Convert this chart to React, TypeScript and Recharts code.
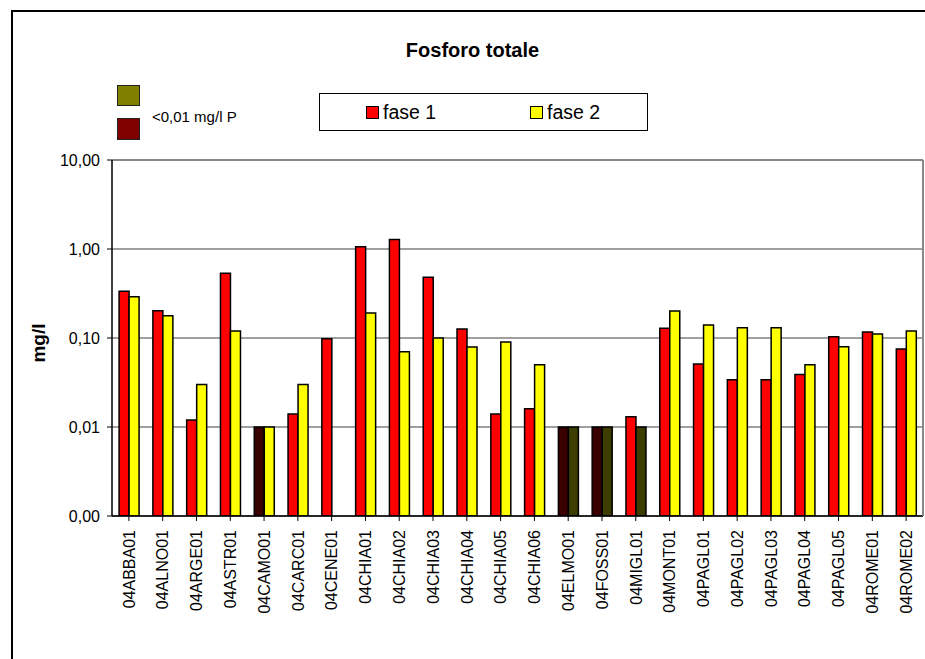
import React from 'react';
import { BarChart, Bar, XAxis, YAxis, CartesianGrid, Cell, ReferenceLine } from 'recharts';

const categories = [
  '04ABBA01', '04ALNO01', '04ARGE01', '04ASTR01', '04CAMO01', '04CARC01', '04CENE01', '04CHIA01',
  '04CHIA02', '04CHIA03', '04CHIA04', '04CHIA05', '04CHIA06', '04ELMO01', '04FOSS01', '04MIGL01',
  '04MONT01', '04PAGL01', '04PAGL02', '04PAGL03', '04PAGL04', '04PAGL05', '04ROME01', '04ROME02',
];
const fase1 = [0.335, 0.203, 0.012, 0.533, 0.01, 0.014, 0.098, 1.06, 1.28, 0.481, 0.126, 0.014, 0.016, 0.01, 0.01, 0.013, 0.129, 0.051, 0.034, 0.034, 0.039, 0.103, 0.117, 0.075];
const fase2 = [0.291, 0.178, 0.03, 0.12, 0.01, 0.03, null, 0.191, 0.07, 0.1, 0.079, 0.09, 0.05, 0.01, 0.01, 0.01, 0.201, 0.14, 0.13, 0.13, 0.05, 0.08, 0.111, 0.12];
// below detection limit (<0,01 mg/l P)
const fase1Below = [false, false, false, false, true, false, false, false, false, false, false, false, false, true, true, false, false, false, false, false, false, false, false, false];
const fase2Below = [false, false, false, false, false, false, false, false, false, false, false, false, false, true, true, true, false, false, false, false, false, false, false, false];
const yTicks = [0.001, 0.01, 0.1, 1, 10];

const data = categories.map((c, i) => ({ name: c, f1: fase1[i], f2: fase2[i] }));

const FONT = '"Liberation Sans", Arial, sans-serif';

const fmt = (v: number) => v.toFixed(2).replace('.', ',');

const XTick = (props: any) => {
  const { x, y, payload } = props;
  const yy = y + 7;
  return (
    <text x={x} y={yy} transform={`rotate(-90 ${x} ${yy})`} textAnchor="end" dy="0.36em"
      fontSize={16} fontFamily={FONT} fill="#000">{payload.value}</text>
  );
};

export default function App() {
  return (
    <div style={{ position: 'absolute', left: 0, top: 0, width: 925, height: 659, overflow: 'hidden', background: '#fff', fontFamily: FONT }}>
      <div style={{ position: 'absolute', left: 11, top: 10, width: 1000, height: 1000, border: '2px solid #000', boxShadow: '1px 1px 0 #999' }} />
      <BarChart width={925} height={659} data={data} margin={{ top: 160, right: 0, bottom: 0, left: 12 }}
        barCategoryGap="21%" barGap={0}>
        <CartesianGrid yAxisId="l" horizontal vertical={false} stroke="#404040" strokeWidth={1} />
        <XAxis dataKey="name" height={143} interval={0} tick={<XTick />} tickSize={5}
          axisLine={{ stroke: '#000', strokeWidth: 1.5 }} tickLine={{ stroke: '#000' }} />
        <YAxis yAxisId="l" scale="log" domain={[0.001, 10]} ticks={yTicks} allowDataOverflow width={100}
          tickFormatter={fmt} tickSize={5} tickMargin={7}
          tick={{ fontSize: 16, fontFamily: FONT, fill: '#000' }}
          axisLine={{ stroke: '#000', strokeWidth: 1.5 }} tickLine={{ stroke: '#000' }} />
        <YAxis yAxisId="r" orientation="right" width={2} tick={false} tickLine={false}
          axisLine={{ stroke: '#888', strokeWidth: 2 }} />
        <ReferenceLine yAxisId="l" y={10} stroke="#888" strokeWidth={2} />
        <Bar yAxisId="l" dataKey="f1" isAnimationActive={false} stroke="#000" strokeWidth={1.5}>
          {data.map((d, i) => <Cell key={i} fill={fase1Below[i] ? '#3a0000' : '#ff0000'} />)}
        </Bar>
        <Bar yAxisId="l" dataKey="f2" isAnimationActive={false} stroke="#000" strokeWidth={1.5}>
          {data.map((d, i) => <Cell key={i} fill={fase2Below[i] ? '#3d3d00' : '#ffff00'} />)}
        </Bar>
      </BarChart>
      <div style={{ position: 'absolute', left: 0, width: 945, top: 38, textAlign: 'center', fontSize: 20, fontWeight: 'bold', lineHeight: '24px' }}>Fosforo totale</div>
      <div style={{ position: 'absolute', left: 117, top: 85, width: 21, height: 19, background: '#808000', border: '1px solid #222' }} />
      <div style={{ position: 'absolute', left: 117, top: 118, width: 21, height: 20, background: '#800000', border: '1px solid #222' }} />
      <div style={{ position: 'absolute', left: 152, top: 107, fontSize: 15, lineHeight: '20px', whiteSpace: 'nowrap' }}>&lt;0,01 mg/l P</div>
      <div style={{ position: 'absolute', left: 319, top: 93, width: 327, height: 36, border: '1px solid #000' }} />
      <div style={{ position: 'absolute', left: 366, top: 106, width: 11, height: 11, background: '#ff0000', border: '1px solid #000' }} />
      <div style={{ position: 'absolute', left: 383, top: 100, fontSize: 19.5, lineHeight: '24px', whiteSpace: 'nowrap' }}>fase 1</div>
      <div style={{ position: 'absolute', left: 530, top: 106, width: 11, height: 11, background: '#ffff00', border: '1px solid #000' }} />
      <div style={{ position: 'absolute', left: 547, top: 100, fontSize: 19.5, lineHeight: '24px', whiteSpace: 'nowrap' }}>fase 2</div>
      <div style={{ position: 'absolute', left: 39, top: 343, transform: 'translate(-50%, -50%) rotate(-90deg)', fontSize: 19, fontWeight: 'bold', whiteSpace: 'nowrap', lineHeight: '22px' }}>mg/l</div>
    </div>
  );
}
